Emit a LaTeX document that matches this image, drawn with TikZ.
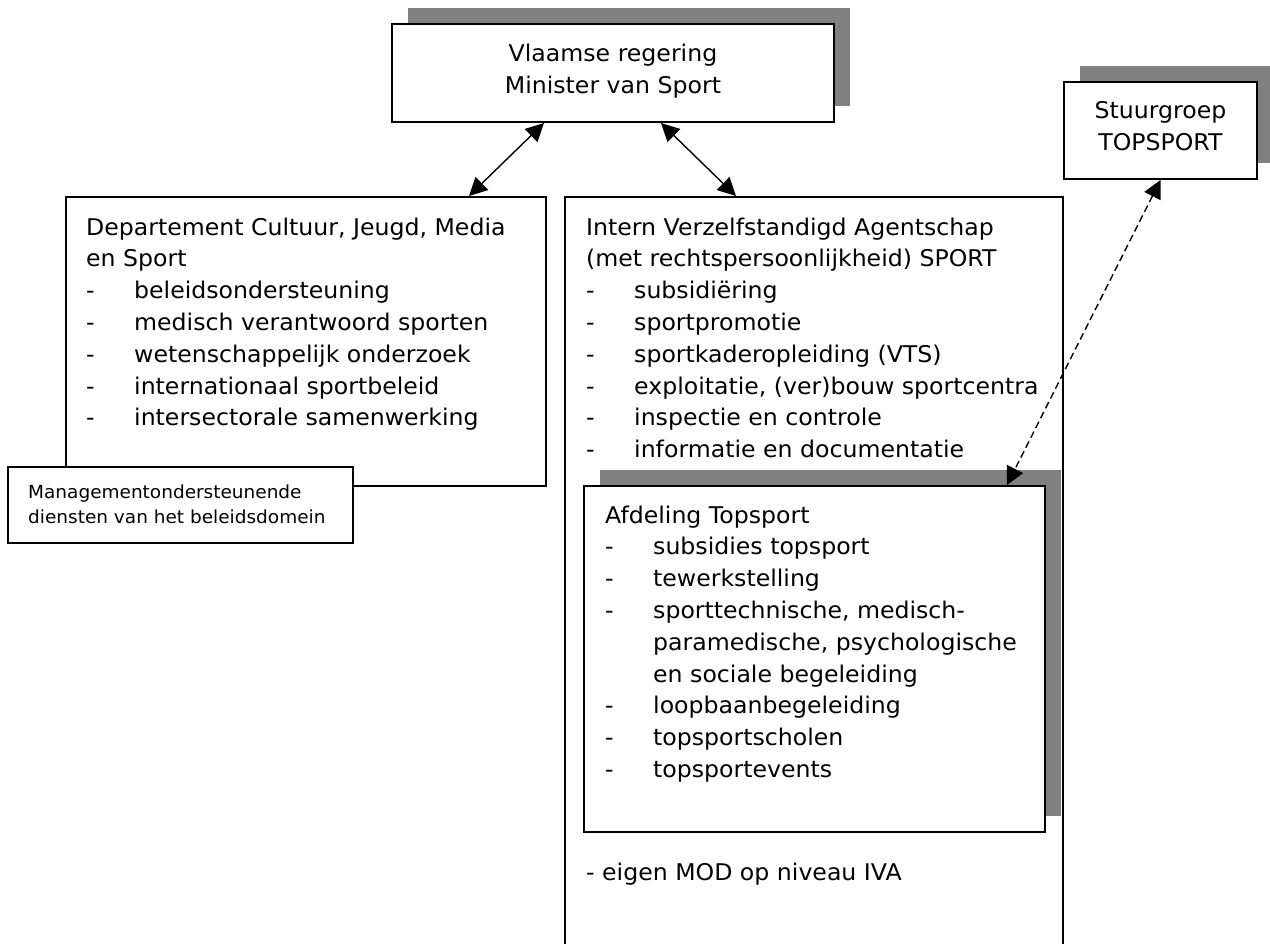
\documentclass[tikz,border=0pt]{standalone}
\usepackage{fontspec}
\setmainfont[FakeStretch=1.027]{DejaVu Sans}
\usetikzlibrary{arrows.meta,shadows}
\definecolor{shadowgray}{HTML}{808080}
\newcommand{\bul}{\makebox[48pt][l]{-}}
\begin{document}
\begin{tikzpicture}[x=1pt,y=-1pt,
  box/.style={draw=black, line width=2pt, fill=white, inner sep=0pt},
  shadowed/.style={general shadow={fill=shadowgray, shadow xshift=16pt, shadow yshift=16pt}},
  txt/.style={inner sep=0pt, align=left, font=\fontsize{23}{31.8}\selectfont},
  ctxt/.style={inner sep=0pt, align=center, font=\fontsize{23}{32}\selectfont},
  stxt/.style={inner sep=0pt, align=left, font=\fontsize{18}{25}\selectfont},
  conn/.style={line width=1.4pt, {Triangle[length=18pt,width=18pt]}-{Triangle[length=18pt,width=18pt]}},
  dconn/.style={conn, dash pattern=on 7pt off 4pt}]
\useasboundingbox (0,0) rectangle (1270,944);
\clip (0,0) rectangle (1270,944);
% boxes
\node[box, shadowed, minimum width=442pt, minimum height=98pt] (top) at (613,73) {};
\node[box, shadowed, minimum width=193pt, minimum height=97pt] (stuur) at (1160.5,130.5) {};
\node[box, minimum width=480pt, minimum height=289pt] (left) at (306,341.5) {};
\node[box, minimum width=345pt, minimum height=76pt] (mod) at (180.5,505) {};
\node[box, minimum width=498pt, minimum height=763pt] (iva) at (814,578.5) {};
\node[box, shadowed, minimum width=461pt, minimum height=346pt] (afd) at (814.5,659) {};
% texts (anchor base = baseline of last line)
\node[ctxt, anchor=base] (toptxt) at (613,94) {Vlaamse regering\\Minister van Sport};
\node[ctxt, anchor=base] (stuurtxt) at (1160.5,151) {Stuurgroep\\TOPSPORT};
\node[txt, anchor=base west] (lefttxt) at (86,425.8) {Departement Cultuur, Jeugd, Media\\en Sport\\
\bul beleidsondersteuning\\\bul medisch verantwoord sporten\\\bul wetenschappelijk onderzoek\\
\bul internationaal sportbeleid\\\bul intersectorale samenwerking};
\node[stxt, anchor=base west] (modtxt) at (28,523) {Managementondersteunende\\diensten van het beleidsdomein};
\node[txt, anchor=base west] (ivatxt) at (586,457.6) {Intern Verzelfstandigd Agentschap\\(met rechtspersoonlijkheid) SPORT\\
\bul subsidiëring\\\bul sportpromotie\\\bul sportkaderopleiding (VTS)\\\bul exploitatie, (ver)bouw sportcentra\\
\bul inspectie en controle\\\bul informatie en documentatie};
\node[txt, anchor=base west] (afdtxt) at (605,777.4) {Afdeling Topsport\\\bul subsidies topsport\\\bul tewerkstelling\\
\bul sporttechnische, medisch-\\\hspace*{48pt}paramedische, psychologische\\\hspace*{48pt}en sociale begeleiding\\
\bul loopbaanbegeleiding\\\bul topsportscholen\\\bul topsportevents};
\node[txt, anchor=base west] (ivamod) at (586,880) {- eigen MOD op niveau IVA};
% connectors
\draw[conn] ([xshift=153pt]top.south west) -- ([xshift=404pt]left.north west);
\draw[conn] ([xshift=270pt]top.south west) -- ([xshift=172pt]iva.north west);
\draw[dconn] (stuur.south) -- ([xshift=424pt]afd.north west);
\end{tikzpicture}
\end{document}
